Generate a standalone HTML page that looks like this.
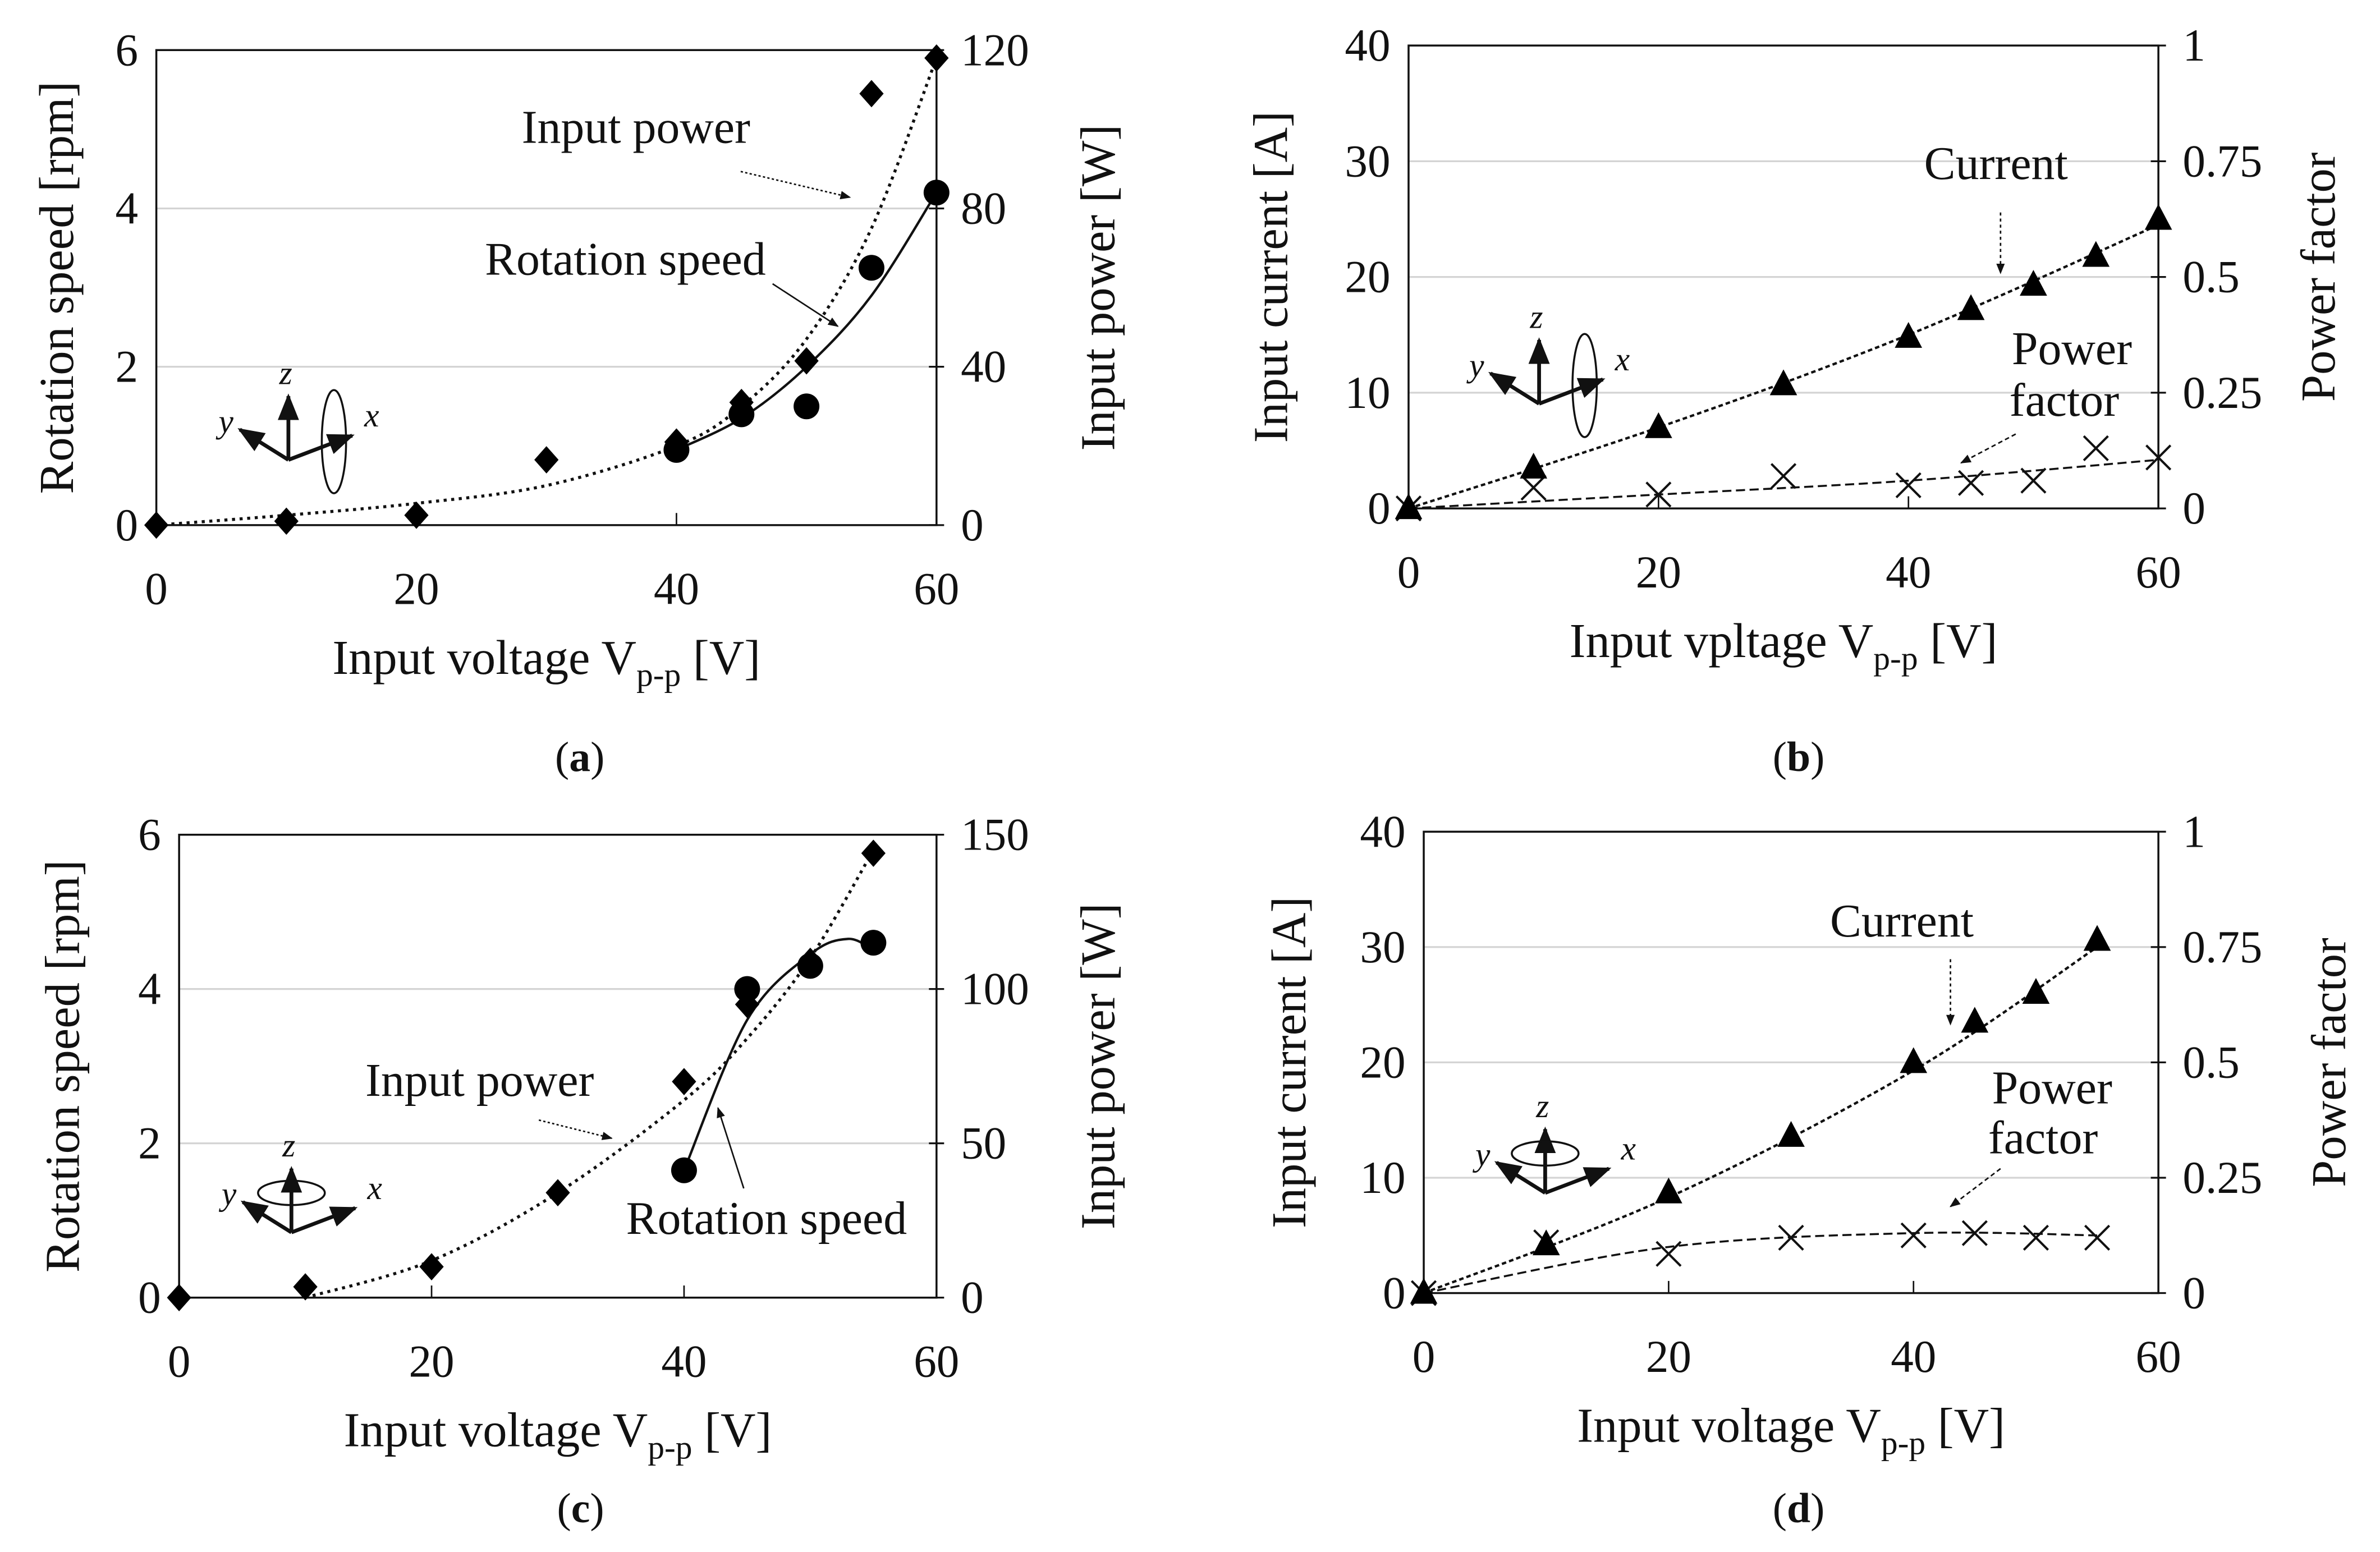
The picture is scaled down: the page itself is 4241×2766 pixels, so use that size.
<!DOCTYPE html>
<html><head><meta charset="utf-8"><style>
html,body{margin:0;padding:0;background:#fff}
svg{display:block}
text{font-family:"Liberation Serif","Times New Roman",serif;fill:#111}
</style></head><body>
<svg id="fig" width="4241" height="2766" viewBox="0 0 1568 1022.6" preserveAspectRatio="none" xmlns="http://www.w3.org/2000/svg">
<defs>
<marker id="ah" viewBox="0 0 10 10" refX="9" refY="5" markerWidth="7" markerHeight="7" orient="auto"><path d="M0,1 L10,5 L0,9 z" fill="#111"/></marker>
</defs>
<g id="root"></g>
</svg>
<script>
// Panel (a)
const aVolt = [0,10,20,30,40,45,50,55,60];
const aPower = [0,1,2.5,16.5,21,31,41.5,109,118];
const aSpeedVolt = [40,45,50,55,60];
const aSpeed = [0.95,1.4,1.5,3.25,4.2];
const aPowerFitV = [0,10,20,30,40,45,50,55,60];
const aPowerFit = [0,2.5,5.5,10,20,30,47,75,118];
const aSpeedFitV = [40,45,50,55,60];
const aSpeedFit = [0.95,1.35,2.0,2.9,4.2];
// Panel (b)
const bVolt = [0,10,20,30,40,45,50,55,60];
const bCurrent = [0,3.5,7,10.7,14.8,17.2,19.3,21.8,25];
const bPF = [0,0.045,0.03,0.07,0.05,0.055,0.06,0.13,0.11];
const bCurFitV = [0,20,40,60];
const bCurFit = [0,7,15,24.5];
const bPFFitV = [0,20,40,60];
const bPFFit = [0,0.03,0.06,0.105];
// Panel (c)
const cVolt = [0,10,20,30,40,45,50,55];
const cPower = [0,3.5,10,34,70,95,109,144];
const cSpeedVolt = [40,45,50,55];
const cSpeed = [1.65,4.0,4.3,4.6];
const cPowerFitV = [10,20,30,40,45,50,55];
const cPowerFit = [0,12,34,64,84,110,145];
const cSpeedFitV = [40,45,50,53,55];
const cSpeedFit = [1.65,3.6,4.45,4.65,4.5];
// Panel (d)
const dVolt = [0,10,20,30,40,45,50,55];
const dCurrent = [0,4.2,8.7,13.6,20,23.5,26,30.6];
const dPF = [0,0.11,0.085,0.12,0.125,0.13,0.12,0.12];
const dCurFitV = [0,20,40,55];
const dCurFit = [0,8.3,19.3,30];
const dPFFitV = [0,20,40,55];
const dPFFit = [0,0.1,0.13,0.125];
// tick labels
const xTicks = [0,20,40,60];
const rpmTicks = [0,2,4,6];
const aWTicks = [0,40,80,120];
const cWTicks = [0,50,100,150];
const curTicks = [0,10,20,30,40];
const pfTicks = ['0','0.25','0.5','0.75','1'];

const NS='http://www.w3.org/2000/svg';
const root=document.getElementById('root');
function mk(tag,attrs,parent,txt){const e=document.createElementNS(NS,tag);for(const k in attrs)e.setAttribute(k,attrs[k]);if(txt!==undefined)e.textContent=txt;(parent||root).appendChild(e);return e;}
function lin(d0,d1,r0,r1){return v=>r0+(v-d0)/(d1-d0)*(r1-r0);}
function pathThrough(pts){
  let d='M'+pts[0][0]+','+pts[0][1];
  for(let i=0;i<pts.length-1;i++){
    const p0=pts[i-1]||pts[i],p1=pts[i],p2=pts[i+1],p3=pts[i+2]||p2;
    const c1=[p1[0]+(p2[0]-p0[0])/6,p1[1]+(p2[1]-p0[1])/6];
    const c2=[p2[0]-(p3[0]-p1[0])/6,p2[1]-(p3[1]-p1[1])/6];
    d+=' C'+c1+' '+c2+' '+p2;
  }
  return d;
}
function curve(g,xs,ys,sx,sy,dash,w,name){
  const e=mk('path',{d:pathThrough(xs.map((x,i)=>[sx(x),sy(ys[i])])),fill:'none',stroke:'#111','stroke-width':w,'stroke-dasharray':dash},g);
  
  
}
function marker(g,type,x,y,name){
  let e;
  if(type==='diamond') e=mk('path',{d:`M${x},${y-9} L${x+8},${y} L${x},${y+9} L${x-8},${y} z`,fill:'#000'},g);
  else if(type==='circle') e=mk('circle',{cx:x,cy:y,r:8.5,fill:'#000'},g);
  else if(type==='tri') e=mk('path',{d:`M${x},${y-10} L${x+9},${y+7} L${x-9},${y+7} z`,fill:'#000'},g);
  else e=mk('path',{d:`M${x-8},${y-8} L${x+8},${y+8} M${x+8},${y-8} L${x-8},${y+8}`,stroke:'#111','stroke-width':1.5,fill:'none'},g);
  
  
}
function txt(g,x,y,s,size,anchor,name,rot){
  const a={x:x,y:y,'font-size':size,'text-anchor':anchor||'middle'};
  if(rot)a.transform=`rotate(-90 ${x} ${y})`;
  const e=mk('text',a,g,s);
  
  
  return e;
}
function arrow(g,x1,y1,x2,y2,dash,name){
  const e=mk('line',{x1,y1,x2,y2,stroke:'#111','stroke-width':1,'stroke-dasharray':dash,'marker-end':'url(#ah)'},g);
  
  
}
function icon(g,cx,cy,ring){
  const s='#111';
  mk('line',{x1:cx,y1:cy,x2:cx,y2:cy-42,stroke:s,'stroke-width':2.5,'marker-end':'url(#ah)'},g);
  mk('line',{x1:cx,y1:cy,x2:cx-32,y2:cy-20,stroke:s,'stroke-width':2.5,'marker-end':'url(#ah)'},g);
  mk('line',{x1:cx,y1:cy,x2:cx+42,y2:cy-16,stroke:s,'stroke-width':2.5,'marker-end':'url(#ah)'},g);
  if(ring==='x') mk('ellipse',{cx:cx+30,cy:cy-12,rx:8,ry:34,fill:'none',stroke:s,'stroke-width':1.3},g);
  else mk('ellipse',{cx:cx,cy:cy-26,rx:22,ry:8,fill:'none',stroke:s,'stroke-width':1.3},g);
  const t={'font-size':22,'font-style':'italic'};
  mk('text',Object.assign({x:cx-6,y:cy-50},t),g,'z');
  mk('text',Object.assign({x:cx-46,y:cy-18},t),g,'y');
  mk('text',Object.assign({x:cx+50,y:cy-22},t),g,'x');
}
function panel(o){
  const g=mk('g',{});
  
  
  const sx=lin(0,60,o.L,o.R), sy=lin(0,o.yMax,o.B,o.T), sy2=lin(0,o.y2Max,o.B,o.T);
  o.yTicks.forEach((v,i)=>{
    const y=sy(v);
    if(v>0&&v<o.yMax){const gl=mk('line',{x1:o.L,x2:o.R,y1:y,y2:y,stroke:'#d4d4d4','stroke-width':1.2},g);}
    txt(g,o.L-12,y+10,String(v),30,'end','y-tick-label');
    mk('line',{x1:o.R-5,x2:o.R+5,y1:y,y2:y,stroke:'#111','stroke-width':1.2},g);
    txt(g,o.R+16,y+10,o.y2Labels[i],30,'start','y2-tick-label');
  });
  xTicks.forEach(v=>{const x=sx(v);mk('line',{x1:x,x2:x,y1:o.B,y2:o.B-8,stroke:'#111','stroke-width':1},g);txt(g,x,o.B+52,String(v),30,'middle','x-tick-label');});
  const fr=mk('rect',{x:o.L,y:o.T,width:o.R-o.L,height:o.B-o.T,fill:'none',stroke:'#111','stroke-width':1.3},g);
  
  const xt=txt(g,(o.L+o.R)/2,o.B+98,'',32,'middle','x-axis-title');
  xt.innerHTML=o.xTitle+' V<tspan font-size="22" dy="8">p-p</tspan><tspan dy="-8"> [V]</tspan>';
  txt(g,o.ylX,(o.T+o.B)/2,o.yTitle,32,'middle','y-axis-title',true);
  txt(g,o.y2X,(o.T+o.B)/2,o.y2Title,32,'middle','y2-axis-title',true);
  o.draw(g,sx,sy,sy2);
  txt(g,(o.L+o.R)/2-(o.capOff||0),o.capY,'',28,'middle','caption').innerHTML='(<tspan font-weight="bold">'+o.cap+'</tspan>)';
}
panel({name:'panel-a',L:103,R:617,T:33,B:346,yMax:6,y2Max:120,yTicks:rpmTicks,y2Labels:aWTicks.map(String),
 xTitle:'Input voltage',yTitle:'Rotation speed [rpm]',y2Title:'Input power [W]',ylX:48,y2X:734,cap:'a',capY:508,capOff:-22,
 draw:(g,sx,sy,sy2)=>{
  curve(g,aPowerFitV,aPowerFit,sx,sy2,'2 3',2,'input-power-trend');
  curve(g,aSpeedFitV,aSpeedFit,sx,sy,'',1.6,'rotation-speed-trend');
  aVolt.forEach((v,i)=>marker(g,'diamond',sx(v),sy2(aPower[i]),'power-point'));
  aSpeedVolt.forEach((v,i)=>marker(g,'circle',sx(v),sy(aSpeed[i]),'speed-point'));
  txt(g,419,94,'Input power',31,'middle','input-power-label');
  arrow(g,488,113,560,130,'1.5 1.5','input-power-arrow');
  txt(g,412,181,'Rotation speed',31,'middle','rotation-speed-label');
  arrow(g,509,187,552,215,'','rotation-speed-arrow');
  icon(g,190,303,'x');
 }});
panel({name:'panel-b',L:928,R:1422,T:30,B:335,yMax:40,y2Max:1,yTicks:curTicks,y2Labels:pfTicks,
 xTitle:'Input vpltage',yTitle:'Input current [A]',y2Title:'Power factor',ylX:848,y2X:1538,cap:'b',capY:508,capOff:-10,
 draw:(g,sx,sy,sy2)=>{
  curve(g,bCurFitV,bCurFit,sx,sy,'3 2',1.6,'current-trend');
  curve(g,bPFFitV,bPFFit,sx,sy2,'6 3',1.3,'power-factor-trend');
  bVolt.forEach((v,i)=>marker(g,'x',sx(v),sy2(bPF[i]),'power-factor-point'));
  bVolt.forEach((v,i)=>marker(g,'tri',sx(v),sy(bCurrent[i]),'current-point'));
  txt(g,1315,118,'Current',31,'middle','current-label');
  arrow(g,1318,140,1318,180,'2 2','current-arrow');
  txt(g,1365,240,'Power',31,'middle','power-factor-label');
  txt(g,1360,274,'factor',31,'middle','power-factor-label-2');
  arrow(g,1328,286,1292,305,'3 2','power-factor-arrow');
  icon(g,1014,266,'x');
 }});
panel({name:'panel-c',L:118,R:617,T:550,B:855,yMax:6,y2Max:150,yTicks:rpmTicks,y2Labels:cWTicks.map(String),
 xTitle:'Input voltage',yTitle:'Rotation speed [rpm]',y2Title:'Input power [W]',ylX:52,y2X:734,cap:'c',capY:1003,capOff:-15,
 draw:(g,sx,sy,sy2)=>{
  curve(g,cPowerFitV,cPowerFit,sx,sy2,'2 3',2,'input-power-trend');
  curve(g,cSpeedFitV,cSpeedFit,sx,sy,'',1.6,'rotation-speed-trend');
  cVolt.forEach((v,i)=>marker(g,'diamond',sx(v),sy2(cPower[i]),'power-point'));
  cSpeedVolt.forEach((v,i)=>marker(g,'circle',sx(v),sy(cSpeed[i]),'speed-point'));
  txt(g,316,722,'Input power',31,'middle','input-power-label');
  arrow(g,355,738,403,750,'1.5 1.5','input-power-arrow');
  txt(g,505,813,'Rotation speed',31,'middle','rotation-speed-label');
  arrow(g,490,783,473,730,'','rotation-speed-arrow');
  icon(g,192,812,'z');
 }});
panel({name:'panel-d',L:938,R:1422,T:548,B:852,yMax:40,y2Max:1,yTicks:curTicks,y2Labels:pfTicks,
 xTitle:'Input voltage',yTitle:'Input current [A]',y2Title:'Power factor',ylX:860,y2X:1545,cap:'d',capY:1003,capOff:-5,
 draw:(g,sx,sy,sy2)=>{
  curve(g,dCurFitV,dCurFit,sx,sy,'3 2',1.6,'current-trend');
  curve(g,dPFFitV,dPFFit,sx,sy2,'6 3',1.3,'power-factor-trend');
  dVolt.forEach((v,i)=>marker(g,'x',sx(v),sy2(dPF[i]),'power-factor-point'));
  dVolt.forEach((v,i)=>marker(g,'tri',sx(v),sy(dCurrent[i]),'current-point'));
  txt(g,1253,617,'Current',31,'middle','current-label');
  arrow(g,1285,632,1285,675,'2 2','current-arrow');
  txt(g,1352,727,'Power',31,'middle','power-factor-label');
  txt(g,1346,760,'factor',31,'middle','power-factor-label-2');
  arrow(g,1318,770,1285,795,'3 2','power-factor-arrow');
  icon(g,1018,786,'z');
 }});
</script>
</body></html>
